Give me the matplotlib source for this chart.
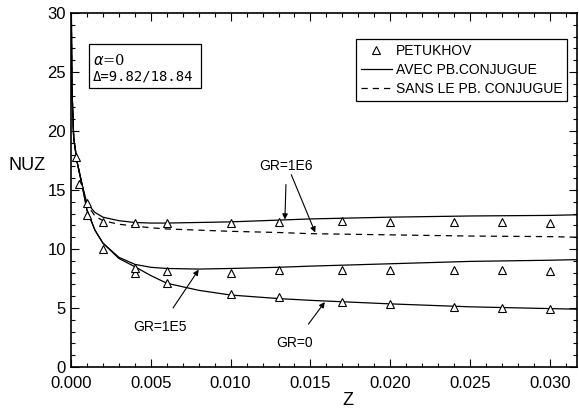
import matplotlib
matplotlib.use("Agg")
import matplotlib.pyplot as plt
from matplotlib.patches import Rectangle
from matplotlib.ticker import MultipleLocator, FormatStrFormatter

plt.rcParams['font.family'] = ['Liberation Sans', 'DejaVu Sans']

# Z positions along the tube for the computed curves
z_curve = [0.00001, 0.00006, 0.00017, 0.00038, 0.0007, 0.001, 0.0015, 0.002, 0.003,
           0.004, 0.005, 0.006, 0.008, 0.010, 0.013, 0.015, 0.020, 0.025, 0.030, 0.0317]

# with conjugate problem (solid)
nu_gr1e6 = [32, 23.6, 19.4, 17.4, 15.4, 13.9, 13.1, 12.7, 12.4, 12.25, 12.2, 12.2,
            12.25, 12.3, 12.45, 12.55, 12.7, 12.8, 12.85, 12.9]
nu_gr1e5 = [32, 23.6, 19.4, 17.4, 15.4, 13.3, 11.6, 10.5, 9.3, 8.7, 8.45, 8.35,
            8.3, 8.35, 8.45, 8.55, 8.75, 8.95, 9.05, 9.1]
nu_gr0 = [32, 23.6, 19.4, 17.4, 15.4, 13.3, 11.6, 10.5, 9.2, 8.5, 7.75, 7.1,
          6.5, 6.1, 5.8, 5.65, 5.35, 5.1, 4.95, 4.9]
# without conjugate problem (dashed), GR=1E6
nu_gr1e6_sans = [32, 23.6, 19.4, 17.4, 15.4, 13.8, 12.8, 12.4, 12.1, 11.95, 11.8, 11.7,
                 11.6, 11.5, 11.4, 11.3, 11.2, 11.1, 11.05, 11.0]

# Petukhov points
z_pet0 = [0.0003, 0.0005, 0.001, 0.002, 0.004, 0.006, 0.010, 0.013, 0.017, 0.020, 0.024, 0.027, 0.030]
nu_pet0 = [17.8, 15.5, 12.9, 10.0, 8.0, 7.1, 6.2, 5.9, 5.5, 5.3, 5.1, 5.0, 4.9]
z_pet5 = [0.004, 0.006, 0.010, 0.013, 0.017, 0.020, 0.024, 0.027, 0.030]
nu_pet5 = [8.4, 8.1, 8.0, 8.2, 8.2, 8.2, 8.2, 8.2, 8.15]
z_pet6 = [0.001, 0.002, 0.004, 0.006, 0.010, 0.013, 0.017, 0.020, 0.024, 0.027, 0.030]
nu_pet6 = [13.9, 12.3, 12.2, 12.2, 12.2, 12.3, 12.4, 12.3, 12.3, 12.3, 12.2]

fig = plt.figure(figsize=(5.79, 4.08), dpi=100)
ax = fig.add_axes([0.1226, 0.1005, 0.874, 0.8675])

lw = 0.9
ax.plot(z_curve, nu_gr1e6, color='black', lw=lw)
ax.plot(z_curve, nu_gr1e5, color='black', lw=lw)
ax.plot(z_curve, nu_gr0, color='black', lw=lw)
ax.plot(z_curve, nu_gr1e6_sans, color='black', lw=lw, dashes=(5, 4))

mk = dict(ls='none', marker='^', ms=6, mfc='white', mec='black', mew=0.8)
ax.plot(z_pet0, nu_pet0, **mk)
ax.plot(z_pet5, nu_pet5, **mk)
ax.plot(z_pet6, nu_pet6, **mk)

ax.set_xlim(0, 0.0317)
ax.set_ylim(0, 30)
ax.xaxis.set_major_locator(MultipleLocator(0.005))
ax.xaxis.set_minor_locator(MultipleLocator(0.001))
ax.xaxis.set_major_formatter(FormatStrFormatter('%.3f'))
ax.yaxis.set_major_locator(MultipleLocator(5))
ax.yaxis.set_minor_locator(MultipleLocator(1))
ax.tick_params(which='both', direction='in', top=True, right=True, width=0.8)
ax.tick_params(which='major', length=6, labelsize=12)
ax.tick_params(which='minor', length=3)
ax.tick_params(axis='x', which='major', pad=6.5)
for s in ax.spines.values():
    s.set_linewidth(1.2)

ax.set_xlabel('Z', fontsize=13, va='center')
ax.xaxis.set_label_coords(0.547, -0.095)
ax.set_ylabel('NUZ', fontsize=13, rotation=0, va='center', ha='center')
ax.yaxis.set_label_coords(-0.087, 0.568)

# parameter box
ax.add_patch(Rectangle((0.0356, 0.788), 0.221, 0.124, transform=ax.transAxes,
                       fill=False, lw=0.9, ec='black'))
ax.text(0.043, 0.866, r'$\alpha$=0', transform=ax.transAxes, fontsize=10.5,
        va='center', family=['DejaVu Serif'])
ax.text(0.043, 0.820, '\u0394=9.82/18.84', transform=ax.transAxes, fontsize=10,
        va='center', family=['DejaVu Sans Mono'])

# legend
h1, = ax.plot([], [], **mk)
h2, = ax.plot([], [], color='black', lw=lw)
h3, = ax.plot([], [], color='black', lw=lw, dashes=(5, 4))
leg = ax.legend([h1, h2, h3], ['PETUKHOV', 'AVEC PB.CONJUGUE', 'SANS LE PB. CONJUGUE'],
                loc='upper right', bbox_to_anchor=(0.981, 0.926), borderaxespad=0,
                fontsize=10, handlelength=2.2, handletextpad=0.3, labelspacing=0.35,
                borderpad=0.35, fancybox=False, framealpha=1, edgecolor='black')
leg.get_frame().set_linewidth(0.9)

# annotations
arr = dict(arrowstyle='-|>', color='black', lw=0.8, mutation_scale=8)
ax.annotate('GR=1E6', xy=(0.0134, 12.5), xytext=(0.0135, 17.0), fontsize=10,
            ha='center', va='center', arrowprops=dict(arr, shrinkA=6, shrinkB=0))
ax.annotate('', xy=(0.0153, 11.4), xytext=(0.0138, 16.3),
            arrowprops=dict(arr, shrinkA=0, shrinkB=0))
ax.annotate('GR=1E5', xy=(0.0080, 8.25), xytext=(0.0056, 3.4), fontsize=10,
            ha='center', va='center', arrowprops=dict(arr, shrinkA=8, shrinkB=0))
ax.annotate('GR=0', xy=(0.0159, 5.5), xytext=(0.0140, 2.05), fontsize=10,
            ha='center', va='center', arrowprops=dict(arr, shrinkA=8, shrinkB=0))

fig.savefig('out.png', dpi=100)
